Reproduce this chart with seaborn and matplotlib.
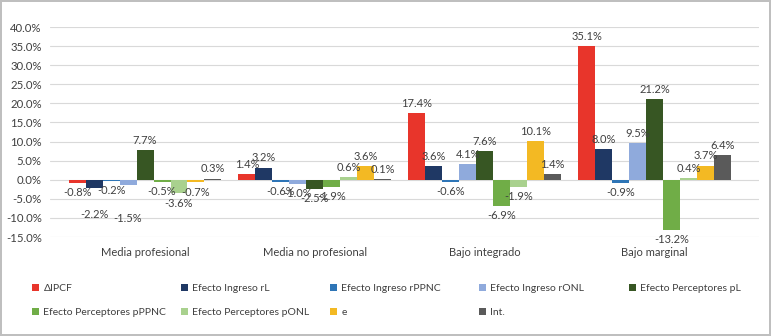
import pandas as pd
import matplotlib.pyplot as plt
import seaborn as sns

categories = ["Media profesional", "Media no profesional", "Bajo integrado", "Bajo marginal"]
series = ["ΔIPCF", "Efecto Ingreso rL", "Efecto Ingreso rPPNC", "Efecto Ingreso rONL",
          "Efecto Perceptores pL", "Efecto Perceptores pPPNC", "Efecto Perceptores pONL",
          "e", "Int."]

ipcf = [-0.8, 1.4, 17.4, 35.1]
ing_rl = [-2.2, 3.2, 3.6, 8.0]
ing_rppnc = [-0.2, -0.6, -0.6, -0.9]
ing_ronl = [-1.5, -1.0, 4.1, 9.5]
perc_pl = [7.7, -2.5, 7.6, 21.2]
perc_pppnc = [-0.5, -1.9, -6.9, -13.2]
perc_ponl = [-3.6, 0.6, -1.9, 0.4]
e_vals = [-0.7, 3.6, 10.1, 3.7]
int_vals = [0.3, 0.1, 1.4, 6.4]

colors = ["#E8352B", "#1F3864", "#2E75B6", "#8FAADC", "#375623",
          "#70AD47", "#A9D18E", "#F3B923", "#5A5A5A"]

all_vals = [ipcf, ing_rl, ing_rppnc, ing_ronl, perc_pl, perc_pppnc, perc_ponl, e_vals, int_vals]
rows = []
for name, vals in zip(series, all_vals):
    for cat, v in zip(categories, vals):
        rows.append({"cat": cat, "serie": name, "val": v})
df = pd.DataFrame(rows)

sns.set_style("white")
plt.rcParams["font.family"] = ["Lato", "DejaVu Sans"]
txt = "#404040"

fig = plt.figure(figsize=(7.71, 3.36), dpi=100)
fig.patch.set_edgecolor("#BFBFBF")
fig.patch.set_linewidth(1.5)
ax = fig.add_axes([0.065, 0.2946, 0.92, 0.625])

sns.barplot(data=df, x="cat", y="val", hue="serie", palette=colors, width=0.9,
            order=categories, hue_order=series, ax=ax, legend=True, saturation=1,
            linewidth=0)

# etiquetas; en "Media profesional" dos quedan mas abajo como en el original
moved = {1: -15, 3: -20}
for k, cont in enumerate(ax.containers):
    labels = [f"{v:.1f}%" for v in cont.datavalues]
    texts = ax.bar_label(cont, labels=labels, fontsize=8, color=txt, padding=3)
    if k in moved:
        texts[0].xyann = (0, moved[k])

ax.set_xlim(-0.559, 3.618)
ax.set_ylim(-15, 40)
ax.set_yticks(range(-15, 41, 5))
ax.set_yticklabels([f"{t:.1f}%" for t in range(-15, 41, 5)], fontsize=8.2, color=txt)
ax.tick_params(axis="x", labelsize=8, labelcolor=txt, pad=7, length=0)
ax.tick_params(axis="y", length=0, pad=6)
ax.set_xlabel("")
ax.set_ylabel("")
ax.grid(axis="y", color="#D9D9D9", linewidth=0.8)
ax.set_axisbelow(True)
sns.despine(ax=ax, left=True, bottom=True)

handles, labs = ax.get_legend_handles_labels()
ax.legend_.remove()
col_x = [32, 181, 330, 479, 629]
for j, x in enumerate(col_x):
    idx = [i for i in (j, j + 5) if i < len(handles)]
    fig.legend([handles[i] for i in idx], [labs[i] for i in idx],
               loc="upper left", bbox_to_anchor=(x / 771, 1 - 284 / 336),
               frameon=False, fontsize=7.5, handlelength=0.65, handleheight=0.65,
               handletextpad=0.45, borderpad=0, borderaxespad=0, labelspacing=1.45,
               labelcolor=txt)

fig.savefig("out.png", dpi=100)
